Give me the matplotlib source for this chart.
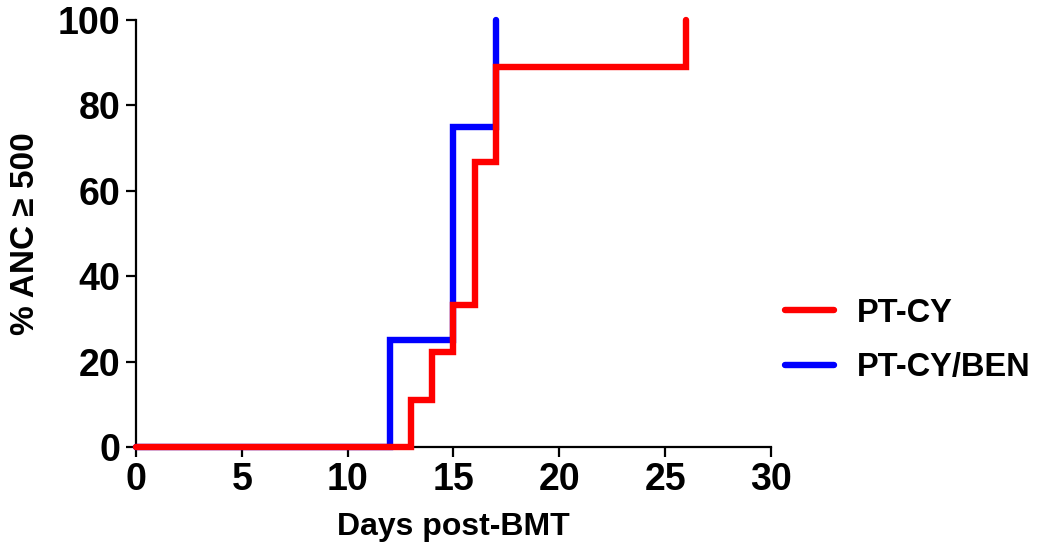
import matplotlib.pyplot as plt

plt.rcParams['font.family'] = ['Liberation Sans', 'DejaVu Sans']
plt.rcParams['font.weight'] = 'bold'
plt.rcParams['axes.labelweight'] = 'bold'

# days post-BMT at which % ANC >= 500 changes
days_ptcy = [0, 13, 14, 15, 16, 17, 26]
pct_ptcy = [0, 11.1, 22.2, 33.3, 66.7, 88.9, 100]

days_ben = [0, 12, 15, 17]
pct_ben = [0, 25, 75, 100]

fig = plt.figure(figsize=(10.5, 5.58), dpi=100)
ax = fig.add_axes([0.1295, 0.199, 0.6047, 0.765])

ax.plot(days_ben, pct_ben, drawstyle='steps-post', color='#0000ff', lw=4.6,
        solid_capstyle='round', solid_joinstyle='miter', clip_on=False,
        label='PT-CY/BEN', zorder=3)
ax.plot(days_ptcy, pct_ptcy, drawstyle='steps-post', color='#ff0000', lw=4.6,
        solid_capstyle='round', solid_joinstyle='miter', clip_on=False,
        label='PT-CY', zorder=4)

ax.set_xlim(0, 30)
ax.set_ylim(0, 100)
ax.set_xticks(range(0, 31, 5))
ax.set_yticks(range(0, 101, 20))
for s in ['top', 'right']:
    ax.spines[s].set_visible(False)
for s in ['left', 'bottom']:
    ax.spines[s].set_linewidth(1.6)
ax.tick_params(width=1.6, length=7, labelsize=27, pad=4)

ax.set_xlabel('Days post-BMT', fontsize=23, labelpad=10)
ax.set_ylabel('% ANC ≥ 500', fontsize=24, labelpad=12)

h, l = ax.get_legend_handles_labels()
fig.legend(h[::-1], l[::-1], loc='center left', bbox_to_anchor=(0.72, 0.39),
           frameon=False, fontsize=23.5, handlelength=1.5, handletextpad=0.7,
           labelspacing=0.72)

plt.savefig('out.png', dpi=100)
